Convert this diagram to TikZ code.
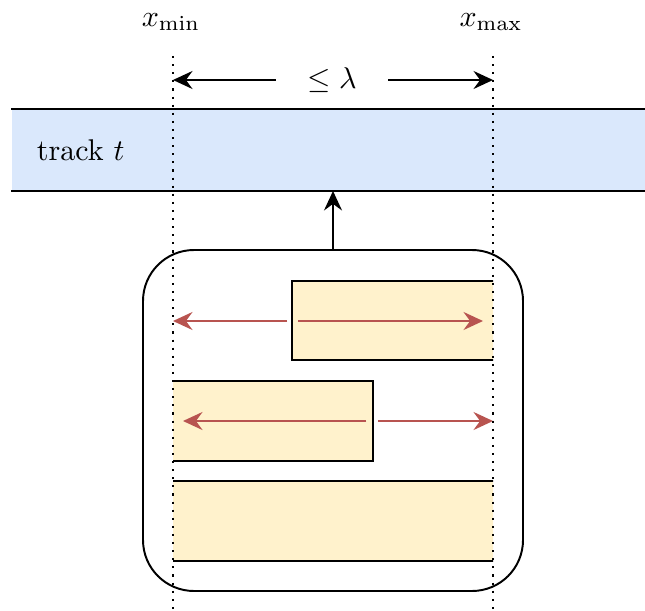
\documentclass[tikz,border=0pt]{standalone}
\usetikzlibrary{arrows.meta,fit}
\definecolor{trackblue}{HTML}{DAE8FC}
\definecolor{boxyellow}{HTML}{FFF2CC}
\definecolor{spanred}{HTML}{B85450}
\begin{document}
\begin{tikzpicture}[x=0.3333pt,y=-0.3333pt,line width=0.65pt,
  tip/.style={-{Stealth[length=6.5pt,width=6pt,inset=2.2pt]}},
  redtip/.style={tip,draw=spanred,fill=spanred},
  band/.style={inner sep=0pt,draw=none},
  interval/.style={band,fill=boxyellow},
  bound/.style={dotted,line width=0.7pt}]
\useasboundingbox (0,0) rectangle (645,610);

% the track band
\coordinate (trTL) at (12,110);
\coordinate (trBR) at (645,190);
\node[band,fill=trackblue,fit=(trTL)(trBR)] (track) {};
\draw (track.north west) -- (track.north east);
\draw (track.south west) -- (track.south east);
\node[anchor=west] (tracklbl) at (26,150) {track $t$};

% bound labels and the span arrows
\node (xminlbl) at (171,22) {$x_{\min}$};
\node (xmaxlbl) at (491,22) {$x_{\max}$};
\node[inner sep=0pt,minimum width=37pt,minimum height=10pt] (lam) at (332,80) {$\leq\lambda$};
\coordinate (lamL) at (173,80);
\coordinate (lamR) at (493,80);
\draw[tip] (lam.west) -- (lamL);
\draw[tip] (lam.east) -- (lamR);

% group of intervals
\coordinate (gTL) at (143,250);
\coordinate (gBR) at (523,591);
\node[band,draw,rounded corners=17pt,fit=(gTL)(gBR)] (group) {};
\draw[tip] (group.north) -- (group.north |- track.south);

% intervals, cut at the two bounds
\coordinate (b1a) at (292,281); \coordinate (b1b) at (600,360);
\coordinate (b2a) at (60,381);  \coordinate (b2b) at (373,461);
\coordinate (b3a) at (60,481);  \coordinate (b3b) at (600,561);
\begin{scope}
  \clip (173,260) rectangle (493,575);
  \node[interval,draw,fit=(b1a)(b1b)] (box1) {};
  \node[interval,draw,fit=(b2a)(b2b)] (box2) {};
  \node[interval,draw,fit=(b3a)(b3b)] (box3) {};
\end{scope}

% extension arrows
\coordinate (r1s) at (287,321); \coordinate (r1e) at (173,321);
\coordinate (r2s) at (298,321); \coordinate (r2e) at (483,321);
\coordinate (r3s) at (366,421); \coordinate (r3e) at (183,421);
\coordinate (r4s) at (378,421); \coordinate (r4e) at (493,421);
\draw[redtip] (r1s) -- (r1e);
\draw[redtip] (r2s) -- (r2e);
\draw[redtip] (r3s) -- (r3e);
\draw[redtip] (r4s) -- (r4e);

% bound lines
\coordinate (minT) at (173,56); \coordinate (minB) at (173,610);
\coordinate (maxT) at (493,56); \coordinate (maxB) at (493,610);
\draw[bound] (minT) -- (minB);
\draw[bound] (maxT) -- (maxB);
\end{tikzpicture}
\end{document}
